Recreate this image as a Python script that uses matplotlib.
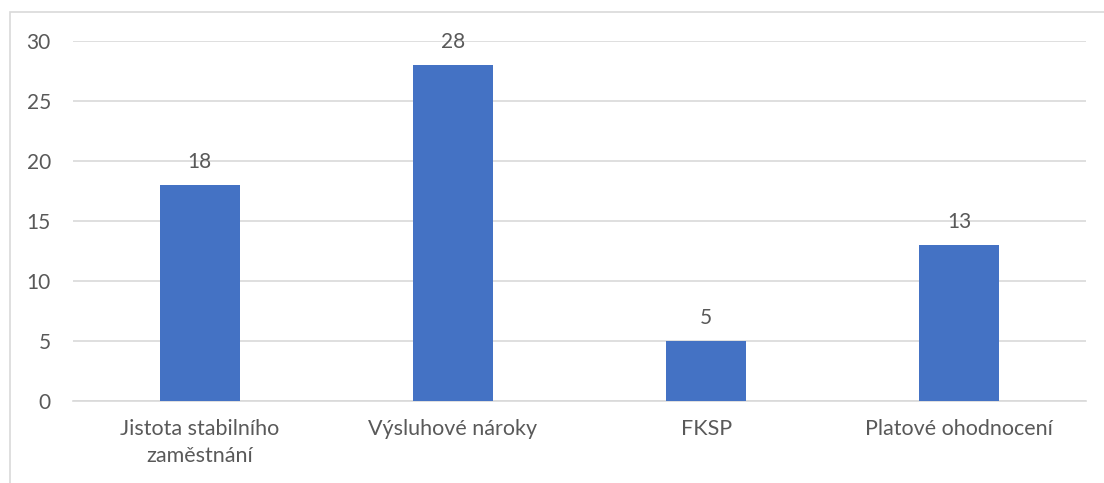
import matplotlib.pyplot as plt
from matplotlib.patches import Rectangle

categories = ['Jistota stabilního\nzaměstnání', 'Výsluhové nároky', 'FKSP', 'Platové ohodnocení']
values = [18, 28, 5, 13]
yticks = [0, 5, 10, 15, 20, 25, 30]

text_color = '#595959'
bar_color = '#4472C4'

plt.rcParams['font.family'] = ['Lato', 'DejaVu Sans']

fig = plt.figure(figsize=(11.04, 4.83), dpi=100)
ax = fig.add_axes([73 / 1104, 1 - 401 / 483, (1086 - 73) / 1104, 360 / 483])

# chart frame (cropped at right/bottom in the original)
fig.patches.append(Rectangle((10 / 1104, -0.1), 1.2, 1 - 12 / 483 + 0.1,
                             transform=fig.transFigure, fill=False,
                             edgecolor='#D9D9D9', linewidth=1.2))

x = range(len(categories))
bars = ax.bar(x, values, width=0.315, color=bar_color, zorder=3)
ax.bar_label(bars, padding=9, fontsize=15, color=text_color)

ax.set_xlim(-0.5, len(categories) - 0.5)
ax.set_ylim(0, 30)
ax.set_yticks(yticks)
ax.set_xticks(list(x))
ax.set_xticklabels(categories, fontsize=15.5, color=text_color, linespacing=1.45)
ax.tick_params(axis='y', labelsize=15, labelcolor=text_color, length=0, pad=16)
ax.tick_params(axis='x', length=0, pad=13)
ax.grid(axis='y', color='#D9D9D9', linewidth=1.2, zorder=0)
for s in ['top', 'right', 'left']:
    ax.spines[s].set_visible(False)
ax.spines['bottom'].set_color('#D9D9D9')
ax.spines['bottom'].set_linewidth(1.2)

fig.savefig('out.png', dpi=100)
